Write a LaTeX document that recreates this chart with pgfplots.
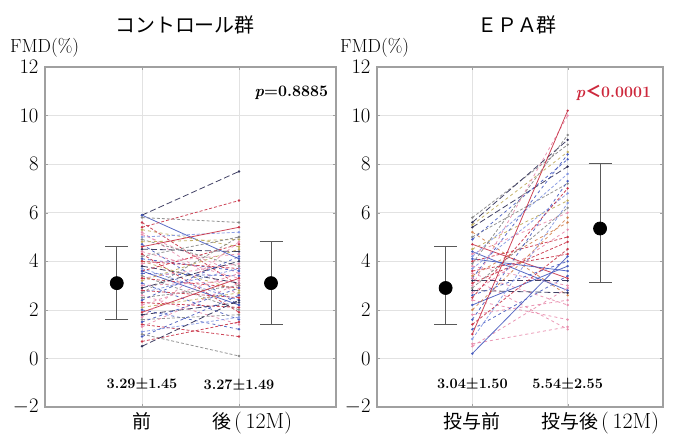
\documentclass[border=0pt]{standalone}
\usepackage{amsmath}
\usepackage{fontspec}
\usepackage{pgfplots}
\pgfplotsset{compat=1.18}
\newfontfamily\cjk{Noto Sans CJK JP}

\definecolor{cblue}{RGB}{70,90,190}
\definecolor{cred}{RGB}{200,50,70}
\definecolor{cpink}{RGB}{232,140,172}
\definecolor{cgray}{RGB}{135,135,135}
\definecolor{colive}{RGB}{190,170,90}
\definecolor{cnavy}{RGB}{45,45,85}
\definecolor{clblue}{RGB}{130,150,225}
\definecolor{corange}{RGB}{210,130,80}
\definecolor{gridc}{RGB}{226,226,226}
\definecolor{framec}{RGB}{160,160,160}
\definecolor{pred}{RGB}{205,40,60}

\tikzset{
  sb/.style={cblue,dashed},
  sr/.style={cred,densely dashed},
  sp/.style={cpink,dashed},
  sg/.style={cgray,densely dashed},
  so/.style={colive,dashed},
  sn/.style={cnavy,dash pattern=on 6bp off 3bp},
  sl/.style={clblue,densely dashed},
  sor/.style={corange,dashed},
  sbs/.style={cblue,solid},
  srs/.style={cred,solid},
}

\pgfplotsset{
  panel/.style={
    scale only axis, height=340bp, clip=false,
    xmin=0, xmax=3, ymin=-2, ymax=12,
    ytick={-2,0,...,12}, xtick={1,2}, xticklabels={},
    grid=major, grid style={gridc,line width=0.6pt},
    axis line style={framec,line width=1.6pt},
    tick style={framec}, major tick length=3bp, tick align=inside,
    yticklabel style={font=\fontsize{20}{20}\selectfont, xshift=-3bp},
    every axis plot/.append style={line width=0.8pt, opacity=0.9,
      mark=*, mark size=0.8pt, mark options={solid}},
  },
  means/.style={only marks, mark=*, mark size=6.5bp, black, opacity=1,
    error bars/.cd, y dir=both, y explicit,
    error bar style={gray!70!black,line width=0.8pt,solid},
    error mark options={gray!70!black,rotate=90,mark size=11.5bp,line width=0.8pt}},
}

\begin{document}
\begin{tikzpicture}
\useasboundingbox (0,0) rectangle (675bp,434bp);

\node[font=\cjk\fontsize{20}{20}\selectfont] at (185bp,409bp) {コントロール群};
\node[font=\cjk\fontsize{20}{20}\selectfont] at (517bp,409bp) {ＥＰＡ群};
\node[anchor=west,font=\fontsize{19}{19}\selectfont,inner sep=0pt] at (10bp,386bp) {FMD(\%)};
\node[anchor=west,font=\fontsize{19}{19}\selectfont,inner sep=0pt] at (340bp,386bp) {FMD(\%)};

% control group
\begin{axis}[panel, at={(45bp,27bp)}, anchor=south west, width=291bp]
\addplot[sn] coordinates {(1,5.9)(2,7.7)};
\addplot[sbs] coordinates {(1,5.9)(2,4.1)};
\addplot[sg] coordinates {(1,5.8)(2,5.6)};
\addplot[sr] coordinates {(1,5.6)(2,3.0)};
\addplot[sr] coordinates {(1,5.4)(2,6.5)};
\addplot[so] coordinates {(1,5.3)(2,4.6)};
\addplot[sp] coordinates {(1,5.2)(2,2.6)};
\addplot[sp] coordinates {(1,5.1)(2,3.5)};
\addplot[sl] coordinates {(1,5.0)(2,5.2)};
\addplot[sg] coordinates {(1,4.9)(2,3.8)};
\addplot[so] coordinates {(1,4.8)(2,4.9)};
\addplot[sb] coordinates {(1,4.7)(2,2.2)};
\addplot[srs] coordinates {(1,4.6)(2,5.4)};
\addplot[sn] coordinates {(1,4.5)(2,4.4)};
\addplot[sp] coordinates {(1,4.4)(2,3.3)};
\addplot[sr] coordinates {(1,4.3)(2,1.9)};
\addplot[sg] coordinates {(1,4.2)(2,5.0)};
\addplot[sb] coordinates {(1,4.1)(2,3.6)};
\addplot[so] coordinates {(1,4.0)(2,2.8)};
\addplot[sr] coordinates {(1,4.0)(2,3.7)};
\addplot[sp] coordinates {(1,3.9)(2,4.3)};
\addplot[sn] coordinates {(1,3.8)(2,3.1)};
\addplot[sl] coordinates {(1,3.7)(2,2.4)};
\addplot[sr] coordinates {(1,3.6)(2,4.7)};
\addplot[sbs] coordinates {(1,3.6)(2,2.2)};
\addplot[sb] coordinates {(1,3.5)(2,3.4)};
\addplot[sg] coordinates {(1,3.4)(2,2.0)};
\addplot[sp] coordinates {(1,3.3)(2,3.9)};
\addplot[sr] coordinates {(1,3.3)(2,2.9)};
\addplot[so] coordinates {(1,3.2)(2,4.5)};
\addplot[sb] coordinates {(1,3.1)(2,1.6)};
\addplot[sp] coordinates {(1,3.0)(2,3.2)};
\addplot[sn] coordinates {(1,2.9)(2,4.0)};
\addplot[sr] coordinates {(1,2.8)(2,2.5)};
\addplot[sl] coordinates {(1,2.7)(2,3.7)};
\addplot[sg] coordinates {(1,2.7)(2,5.0)};
\addplot[sp] coordinates {(1,2.6)(2,1.4)};
\addplot[sg] coordinates {(1,2.5)(2,3.0)};
\addplot[sb] coordinates {(1,2.4)(2,4.2)};
\addplot[sr] coordinates {(1,2.3)(2,2.1)};
\addplot[sp] coordinates {(1,2.2)(2,3.5)};
\addplot[so] coordinates {(1,2.1)(2,2.7)};
\addplot[sb] coordinates {(1,2.0)(2,1.2)};
\addplot[srs] coordinates {(1,1.9)(2,3.3)};
\addplot[sn] coordinates {(1,1.8)(2,2.3)};
\addplot[sp] coordinates {(1,1.7)(2,4.8)};
\addplot[sg] coordinates {(1,1.6)(2,1.8)};
\addplot[sb] coordinates {(1,1.5)(2,2.9)};
\addplot[sr] coordinates {(1,1.4)(2,0.9)};
\addplot[sp] coordinates {(1,1.3)(2,3.1)};
\addplot[sl] coordinates {(1,1.1)(2,1.7)};
\addplot[sg] coordinates {(1,1.0)(2,0.1)};
\addplot[sb] coordinates {(1,0.9)(2,2.6)};
\addplot[sr] coordinates {(1,0.7)(2,1.5)};
\addplot[sn] coordinates {(1,0.5)(2,2.4)};
\addplot[means] coordinates {(0.74,3.1) +- (0,1.5) (2.33,3.1) +- (0,1.7)};
\node[font=\bfseries\fontsize{16}{16}\selectfont] at (axis cs:2.54,10.95) {\textit{p}=0.8885};
\node[font=\bfseries\fontsize{14.5}{14.5}\selectfont] at (axis cs:1,-1.1) {3.29$\boldsymbol{\pm}$1.45};
\node[font=\bfseries\fontsize{14.5}{14.5}\selectfont] at (axis cs:2,-1.1) {3.27$\boldsymbol{\pm}$1.49};
\node[anchor=north,inner sep=0pt,font=\fontsize{19}{19}\selectfont] at (axis cs:1,-2.2) {\cjk 前};
\node[anchor=north west,inner sep=0pt,font=\fontsize{19}{19}\selectfont] at (axis cs:1.72,-2.2) {{\cjk 後}\,{\fontsize{22}{22}\selectfont(\,12M)}};
\end{axis}

% EPA group
\begin{axis}[panel, at={(377bp,27bp)}, anchor=south west, width=286bp]
\addplot[sg] coordinates {(1,5.8)(2,8.8)};
\addplot[sn] coordinates {(1,5.6)(2,9.0)};
\addplot[so] coordinates {(1,5.5)(2,8.5)};
\addplot[sn] coordinates {(1,5.4)(2,7.9)};
\addplot[sor] coordinates {(1,5.2)(2,2.6)};
\addplot[sg] coordinates {(1,5.0)(2,7.2)};
\addplot[sb] coordinates {(1,4.9)(2,8.2)};
\addplot[srs] coordinates {(1,4.7)(2,3.3)};
\addplot[so] coordinates {(1,4.5)(2,6.5)};
\addplot[sbs] coordinates {(1,4.4)(2,2.8)};
\addplot[sp] coordinates {(1,4.3)(2,6.0)};
\addplot[sl] coordinates {(1,4.2)(2,7.6)};
\addplot[sbs] coordinates {(1,4.1)(2,3.6)};
\addplot[sr] coordinates {(1,4.0)(2,5.0)};
\addplot[sg] coordinates {(1,3.9)(2,9.2)};
\addplot[sp] coordinates {(1,3.8)(2,3.0)};
\addplot[sl] coordinates {(1,3.7)(2,6.8)};
\addplot[sr] coordinates {(1,3.6)(2,4.3)};
\addplot[sp] coordinates {(1,3.5)(2,2.2)};
\addplot[sor] coordinates {(1,3.4)(2,5.6)};
\addplot[sb] coordinates {(1,3.3)(2,8.4)};
\addplot[sp] coordinates {(1,3.3)(2,1.2)};
\addplot[sn] coordinates {(1,3.2)(2,3.2)};
\addplot[sr] coordinates {(1,3.1)(2,4.8)};
\addplot[sp] coordinates {(1,3.0)(2,10.0)};
\addplot[sg] coordinates {(1,2.9)(2,6.2)};
\addplot[sn] coordinates {(1,2.8)(2,2.7)};
\addplot[sp] coordinates {(1,2.7)(2,5.3)};
\addplot[sb] coordinates {(1,2.6)(2,4.0)};
\addplot[sr] coordinates {(1,2.5)(2,7.0)};
\addplot[sp] coordinates {(1,2.4)(2,1.6)};
\addplot[sbs] coordinates {(1,2.2)(2,3.8)};
\addplot[sor] coordinates {(1,2.0)(2,5.8)};
\addplot[sp] coordinates {(1,1.8)(2,2.4)};
\addplot[sb] coordinates {(1,1.6)(2,7.3)};
\addplot[sr] coordinates {(1,1.4)(2,4.5)};
\addplot[sb] coordinates {(1,1.2)(2,3.4)};
\addplot[srs] coordinates {(1,1.0)(2,10.2)};
\addplot[sl] coordinates {(1,0.8)(2,6.4)};
\addplot[sp] coordinates {(1,0.6)(2,1.3)};
\addplot[sp] coordinates {(1,0.5)(2,2.9)};
\addplot[sbs] coordinates {(1,0.2)(2,4.2)};
\addplot[means] coordinates {(0.72,2.9) += (0,1.7) -= (0,1.5) (2.34,5.35) += (0,2.7) -= (0,2.2)};
\node[font=\bfseries\fontsize{16}{16}\selectfont,text=pred] at (axis cs:2.48,10.95) {\textit{p}{\cjk ＜}0.0001};
\node[font=\bfseries\fontsize{14.5}{14.5}\selectfont] at (axis cs:1,-1.1) {3.04$\boldsymbol{\pm}$1.50};
\node[font=\bfseries\fontsize{14.5}{14.5}\selectfont] at (axis cs:2,-1.1) {5.54$\boldsymbol{\pm}$2.55};
\node[anchor=north,inner sep=0pt,font=\fontsize{19}{19}\selectfont] at (axis cs:1,-2.2) {\cjk 投与前};
\node[anchor=north west,inner sep=0pt,font=\fontsize{19}{19}\selectfont] at (axis cs:1.72,-2.2) {{\cjk 投与後}\,{\fontsize{22}{22}\selectfont(\,12M)}};
\end{axis}
\end{tikzpicture}
\end{document}
